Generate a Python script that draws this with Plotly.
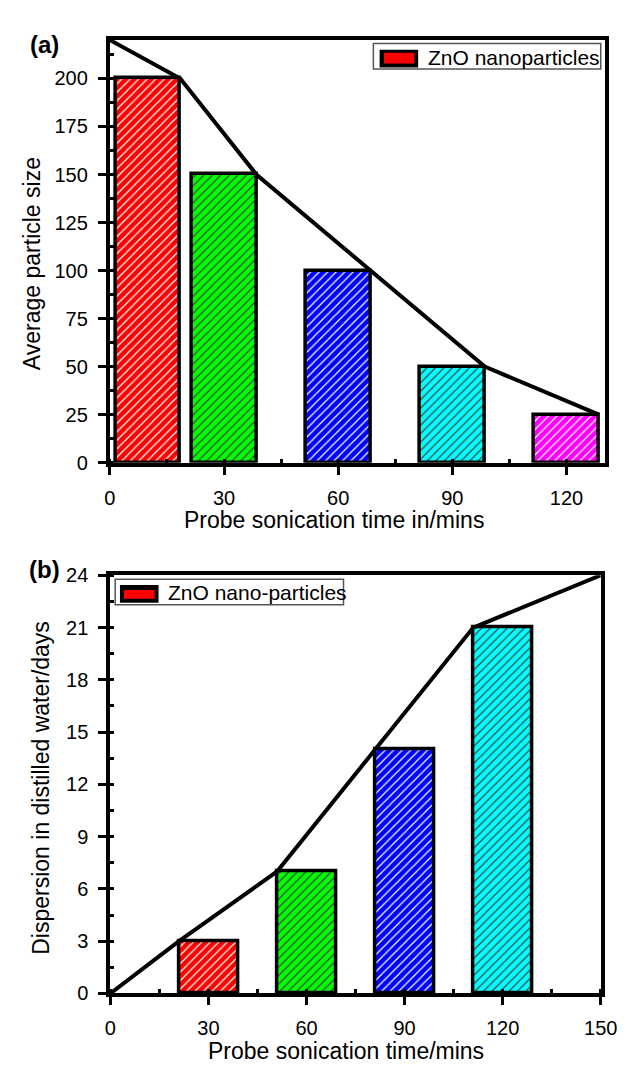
import plotly.graph_objects as go

W, H = 629, 1066

# ---------------- data ----------------
# panel (a)
a_time = [10, 30, 60, 90, 120]
a_size = [200, 150, 100, 50, 25]
a_width = [17, 17, 17, 17, 17]
a_trend_x = [0, 18.5, 38.5, 68.5, 98.5, 128.5]
a_trend_y = [220, 200, 150, 100, 50, 25]
a_colors = ["#FF0000", "#00FF00", "#0000FF", "#00FFFF", "#FF00FF"]
a_hatch = ["#7A3CFF", "#FF3C9A", "#D0D0FF", "#A0A0A0", "#A0A0A0"]

# panel (b)
b_time = [30, 60, 90, 120]
b_days = [3, 7, 14, 21]
b_width = [18, 18, 18, 18]
b_trend_x = [0, 21, 51, 81, 111, 150]
b_trend_y = [0, 3, 7, 14, 21, 24]
b_colors = ["#FF0000", "#00FF00", "#0000FF", "#00FFFF"]
b_hatch = ["#7A3CFF", "#FF3C9A", "#D0D0FF", "#A0A0A0"]

FONT = "Liberation Sans, Arial, Helvetica, sans-serif"

fig = go.Figure()

def hatch(fg):
    return dict(shape="/", fgcolor=fg, fgopacity=1, size=6, solidity=0.2,
                fillmode="overlay")

fig.add_trace(go.Bar(
    x=a_time, y=a_size, width=a_width, xaxis="x", yaxis="y",
    marker=dict(color=a_colors, opacity=1, line=dict(color="black", width=3.5),
                pattern=hatch(a_hatch)),
    showlegend=False, name="ZnO nanoparticles"))
fig.add_trace(go.Scatter(
    x=a_trend_x, y=a_trend_y, mode="lines", xaxis="x", yaxis="y",
    line=dict(color="black", width=4), cliponaxis=False, showlegend=False))

fig.add_trace(go.Bar(
    x=b_time, y=b_days, width=b_width, xaxis="x2", yaxis="y2",
    marker=dict(color=b_colors, opacity=1, line=dict(color="black", width=3.5),
                pattern=hatch(b_hatch)),
    showlegend=False, name="ZnO nano-particles"))
fig.add_trace(go.Scatter(
    x=b_trend_x, y=b_trend_y, mode="lines", xaxis="x2", yaxis="y2",
    line=dict(color="black", width=4), cliponaxis=False, showlegend=False))

def px_x(v):
    return v / W

def px_y(v):
    return 1 - v / H

axis_common = dict(
    showline=True, linecolor="black", linewidth=4, mirror=True,
    ticks="outside", ticklen=8, tickwidth=3, tickcolor="black",
    showgrid=False, zeroline=False,
    tickfont=dict(family=FONT, size=20, color="black"),
    ticklabelstandoff=6,
)

def minor(d):
    return dict(ticks="inside", ticklen=4, tickwidth=3, tickcolor="black",
                dtick=d, tick0=0, showgrid=False)

def border_ticks(overlay, side, anchor, rng, d):
    return dict(overlaying=overlay, side=side, anchor=anchor, range=rng,
                tickmode="linear", tick0=0, dtick=d, ticks="inside", ticklen=4,
                tickwidth=3, tickcolor="black", showticklabels=False,
                showline=False, showgrid=False, zeroline=False, fixedrange=True)

fig.update_layout(
    width=W, height=H,
    margin=dict(l=0, r=0, t=0, b=0),
    paper_bgcolor="white", plot_bgcolor="white",
    bargap=0,
    xaxis=dict(domain=[px_x(99.5), px_x(613)], range=[0, 130], dtick=30, tick0=0,
               anchor="y", minor=minor(15), **axis_common),
    yaxis=dict(domain=[px_y(453), px_y(21.5)], range=[0, 220], dtick=25, tick0=0,
               anchor="x", minor=minor(12.5), **axis_common),
    xaxis2=dict(domain=[px_x(100), px_x(609)], range=[0, 150], dtick=30, tick0=0,
                anchor="y2", minor=minor(15), **axis_common),
    yaxis2=dict(domain=[px_y(995), px_y(568)], range=[0, 24], dtick=3, tick0=0,
                anchor="x2", minor=minor(1.5), **axis_common),
    xaxis3=border_ticks("x", "top", "y", [0, 130], 15),
    yaxis3=border_ticks("y", "right", "x", [0, 220], 12.5),
    xaxis4=border_ticks("x2", "top", "y2", [0, 150], 15),
    yaxis4=border_ticks("y2", "right", "x2", [0, 24], 1.5),
)

title_font = dict(family=FONT, size=23, color="black")
annots = [
    dict(text="Probe sonication time in/mins", x=px_x(332), y=px_y(512), font=title_font),
    dict(text="Average particle size", x=px_x(19), y=px_y(250), textangle=-90, font=title_font),
    dict(text="Probe sonication time/mins", x=px_x(345), y=px_y(1054), font=title_font),
    dict(text="Dispersion in distilled water/days", x=px_x(28), y=px_y(785), textangle=-90, font=title_font),
    dict(text="<b>(a)</b>", x=px_x(32), y=px_y(26), font=dict(family=FONT, size=24, color="black")),
    dict(text="<b>(b)</b>", x=px_x(32), y=px_y(562), font=dict(family=FONT, size=24, color="black")),
    dict(text="ZnO nanoparticles", x=px_x(428), y=px_y(39.5), xanchor="left",
         font=dict(family=FONT, size=21, color="black")),
    dict(text="ZnO nano-particles", x=px_x(158), y=px_y(586), xanchor="left",
         font=dict(family=FONT, size=21, color="black")),
]
for a in annots:
    a.setdefault("xanchor", "center")
    fig.add_annotation(xref="paper", yref="paper", yanchor="middle", showarrow=False, **a)

# legend boxes and swatches (layout decoration in paper pixels)
def rect(x0, y0, x1, y1, **kw):
    fig.add_shape(type="rect", xref="paper", yref="paper",
                  x0=px_x(x0), x1=px_x(x1), y0=px_y(y1), y1=px_y(y0), **kw)

rect(373, 25, 609, 51, line=dict(color="#555555", width=1.5), fillcolor="white", layer="above")
rect(379.5, 31.5, 419.5, 49.5, line=dict(width=0), fillcolor="black", layer="above")
rect(384, 34.5, 415.5, 45.5, line=dict(width=0), fillcolor="#FF0000", layer="above")

rect(105, 572, 342, 598, line=dict(color="#555555", width=1.5), fillcolor="white", layer="above")
rect(110, 578, 150, 596, line=dict(width=0), fillcolor="black", layer="above")
rect(114, 583, 146, 592, line=dict(width=0), fillcolor="#FF0000", layer="above")

fig.write_html("out.html")
